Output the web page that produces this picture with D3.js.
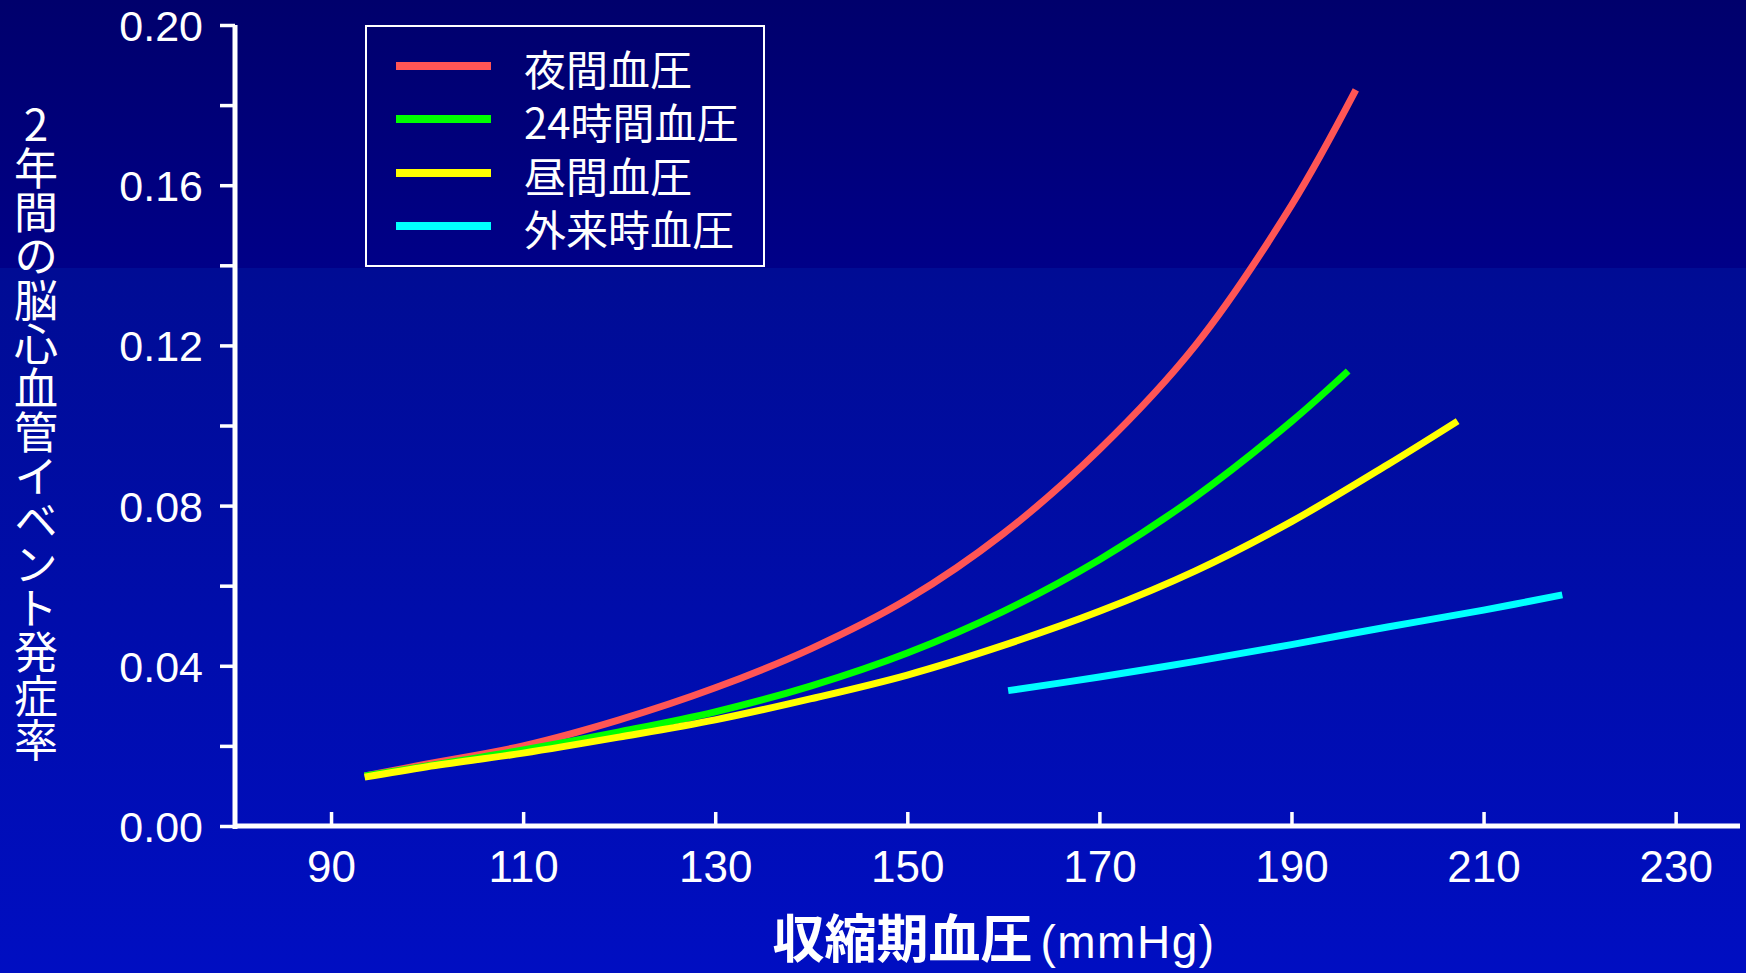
<!DOCTYPE html>
<html><head><meta charset="utf-8">
<script src="https://cdn.jsdelivr.net/npm/d3@7"></script>
<style>html,body{margin:0;padding:0;background:#000080;overflow:hidden}</style>
</head><body>
<svg id="chart" width="1746" height="973"></svg>
<script>
// ---- data ----
const seriesNames = ["夜間血圧", "24時間血圧", "昼間血圧", "外来時血圧"];
const seriesColors = ["#ff5555", "#00ff00", "#ffff00", "#00ffff"];

const nightSBP  = [93.5, 100, 110, 120, 130, 140, 150, 160, 170, 180, 190, 196.7];
const nightRate = [0.0125, 0.0155, 0.0200, 0.0265, 0.0345, 0.0443, 0.0566, 0.0730, 0.0940, 0.1200, 0.1550, 0.1838];

const h24SBP  = [93.5, 100, 110, 120, 130, 140, 150, 160, 170, 180, 190, 195.9];
const h24Rate = [0.0125, 0.0150, 0.0190, 0.0235, 0.0285, 0.0350, 0.0432, 0.0536, 0.0665, 0.0822, 0.1010, 0.1136];

const daySBP  = [93.5, 100, 110, 120, 130, 140, 150, 160, 170, 180, 190, 200, 207.3];
const dayRate = [0.0122, 0.0148, 0.0182, 0.0222, 0.0265, 0.0318, 0.0377, 0.0451, 0.0536, 0.0637, 0.0760, 0.0902, 0.1011];

const clinicSBP  = [160.5, 170, 180, 190, 200, 210, 218.2];
const clinicRate = [0.0338, 0.0372, 0.0411, 0.0453, 0.0497, 0.0539, 0.0577];

const xTickValues = [90, 110, 130, 150, 170, 190, 210, 230];
const yTickValues = [0, 0.02, 0.04, 0.06, 0.08, 0.10, 0.12, 0.14, 0.16, 0.18, 0.20];
const yLabelValues = [0, 0.04, 0.08, 0.12, 0.16, 0.20];
const xTitleMain = "収縮期血圧";
const xTitleUnit = "(mmHg)";
const yTitle = "2年間の脳心血管イベント発症率";

// ---- layout ----
const W = 1746, H = 973;
const svg = d3.select("#chart");
const defs = svg.append("defs");
const g1 = defs.append("linearGradient").attr("id","bgTop").attr("x1",0).attr("y1",0).attr("x2",0).attr("y2",1);
g1.append("stop").attr("offset","0%").attr("stop-color","#00006c");
g1.append("stop").attr("offset","100%").attr("stop-color","#000088");
const g2 = defs.append("linearGradient").attr("id","bgBot").attr("x1",0).attr("y1",0).attr("x2",0).attr("y2",1);
g2.append("stop").attr("offset","0%").attr("stop-color","#000c94");
g2.append("stop").attr("offset","100%").attr("stop-color","#000ec2");
svg.append("rect").attr("x",0).attr("y",0).attr("width",W).attr("height",269).attr("fill","url(#bgTop)");
svg.append("rect").attr("x",0).attr("y",268).attr("width",W).attr("height",H-268).attr("fill","url(#bgBot)");

const x = d3.scaleLinear().domain([80, 236.7]).range([235, 1740]);
const y = d3.scaleLinear().domain([0, 0.20]).range([826, 25]);

// ---- axes ----
const fmt = d3.format(".2f");
const yAxis = d3.axisLeft(y).tickValues(yTickValues).tickSize(15).tickSizeOuter(0).tickPadding(17)
  .tickFormat(d => yLabelValues.some(v => Math.abs(v - d) < 1e-9) ? fmt(d) : "");
const gy = svg.append("g").attr("transform","translate(235,0)").call(yAxis);
gy.select(".domain").attr("stroke","#fff").attr("stroke-width",5).attr("d","M0,25V829");
gy.selectAll(".tick line").attr("stroke","#fff").attr("stroke-width",3.5);
gy.selectAll(".tick text").attr("fill","#fff").attr("font-family","'Liberation Sans', Arial, sans-serif")
  .attr("font-size",43).attr("dy","0.36em");

const xAxis = d3.axisBottom(x).tickValues(xTickValues).tickSize(-14).tickSizeOuter(0).tickFormat(d3.format("d"));
const gx = svg.append("g").attr("transform","translate(0,826)").call(xAxis);
gx.select(".domain").attr("stroke","#fff").attr("stroke-width",5).attr("d","M233,0H1740");
gx.selectAll(".tick line").attr("stroke","#fff").attr("stroke-width",3.5);
gx.selectAll(".tick text").attr("fill","#fff").attr("font-family","'Liberation Sans', Arial, sans-serif")
  .attr("font-size",44).attr("y",56).attr("dy",0);

// ---- lines ----
const series = [
  {name: seriesNames[0], color: seriesColors[0], xs: nightSBP, ys: nightRate},
  {name: seriesNames[1], color: seriesColors[1], xs: h24SBP, ys: h24Rate},
  {name: seriesNames[2], color: seriesColors[2], xs: daySBP, ys: dayRate},
  {name: seriesNames[3], color: seriesColors[3], xs: clinicSBP, ys: clinicRate}
];
const line = d3.line().x(d => x(d[0])).y(d => y(d[1])).curve(d3.curveCatmullRom.alpha(0.5));
svg.append("g").selectAll("path").data(series).join("path")
  .attr("d", s => line(s.xs.map((v,i) => [v, s.ys[i]])))
  .attr("fill","none").attr("stroke", s => s.color).attr("stroke-width",7).attr("stroke-linecap","butt");

// ---- legend ----
const lg = svg.append("g");
lg.append("rect").attr("x",366).attr("y",26).attr("width",398).attr("height",240)
  .attr("fill","none").attr("stroke","#fff").attr("stroke-width",2);
const rowY = [66, 119, 173, 226];
lg.selectAll("line.key").data(series).join("line").attr("class","key")
  .attr("x1",396).attr("x2",491).attr("y1",(d,i)=>rowY[i]).attr("y2",(d,i)=>rowY[i])
  .attr("stroke",d=>d.color).attr("stroke-width",8);
const lt = lg.append("text").attr("fill","#fff").attr("font-family","'Noto Sans CJK JP', sans-serif").attr("font-size",42);
lt.selectAll("tspan").data(series).join("tspan")
  .attr("x",524).attr("y",(d,i)=>rowY[i] + 19.5)
  .text(d=>d.name);

// ---- titles ----
const xt = svg.append("text").attr("x",994).attr("y",958).attr("text-anchor","middle").attr("fill","#fff");
xt.append("tspan").attr("font-family","'Noto Sans CJK JP', sans-serif").attr("font-weight","bold").attr("font-size",52).text(xTitleMain);
xt.append("tspan").attr("font-family","'Liberation Sans', Arial, sans-serif").attr("font-size",46)
  .attr("letter-spacing",1.5).attr("dx",8).text(xTitleUnit);

svg.append("text").attr("x",36).attr("y",432).attr("text-anchor","middle")
  .attr("fill","#fff").attr("font-family","'Noto Sans CJK JP', sans-serif").attr("font-size",44)
  .style("writing-mode","vertical-rl").style("text-orientation","upright")
  .text(yTitle);
</script>
</body></html>
